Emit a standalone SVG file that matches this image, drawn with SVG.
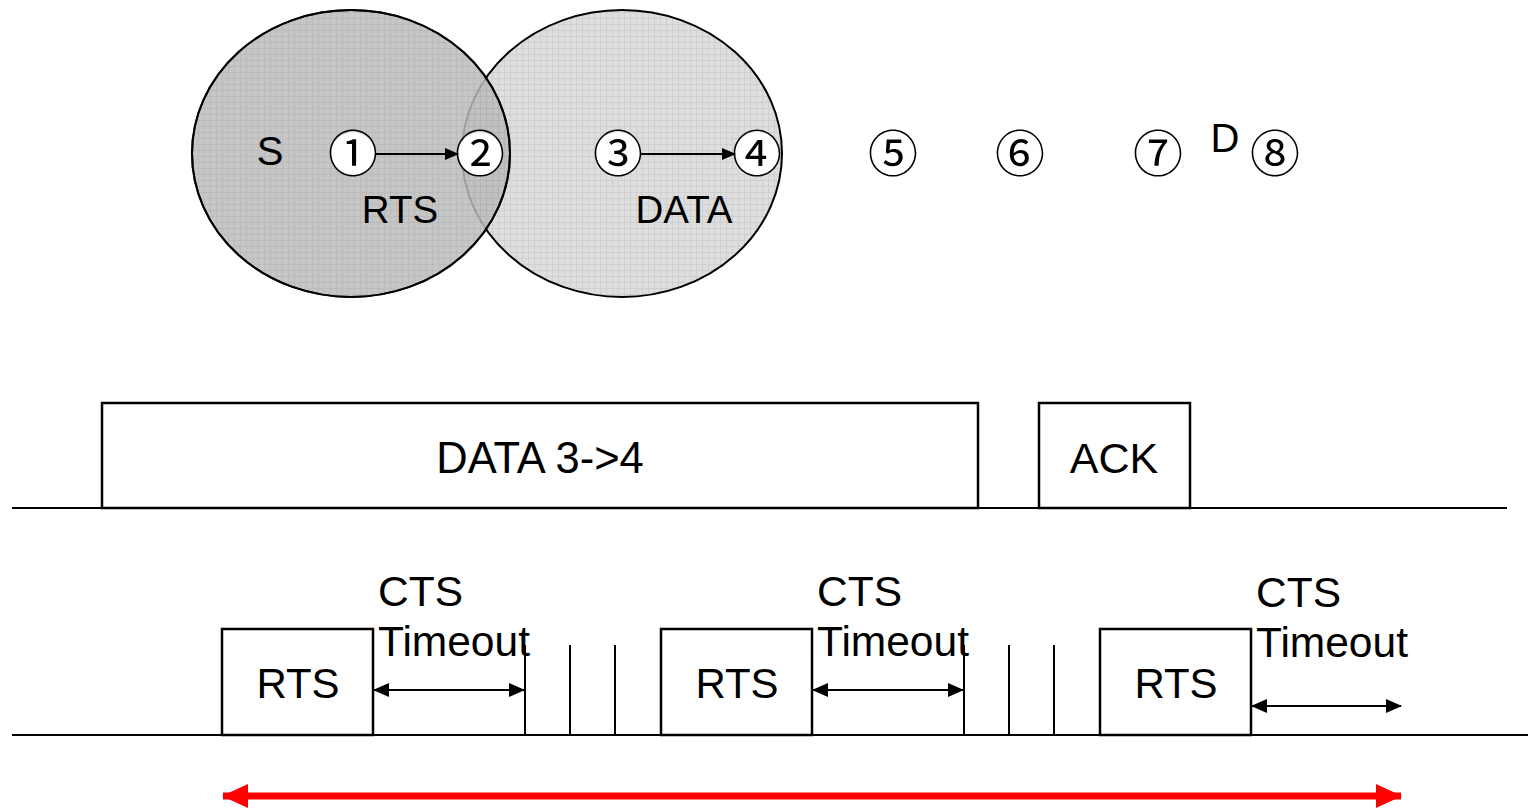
<svg xmlns="http://www.w3.org/2000/svg" width="1528" height="809" viewBox="0 0 1528 809">
<style>
.t{font-family:"Liberation Sans",Arial,sans-serif;fill:#000}
.cd{font-family:"Noto Sans CJK JP",sans-serif;font-size:50px;text-anchor:middle;fill:#000}
.ln{stroke:#000;stroke-width:2;fill:none}
.box{stroke:#000;stroke-width:2.5;fill:#fff}
</style>
<defs>
<pattern id="g1" width="6" height="6" patternUnits="userSpaceOnUse">
<rect width="6" height="6" fill="#bdbdbd"/>
<path d="M0 0.5H6M0.5 0V6" stroke="#b0b0b0" stroke-width="1"/>
</pattern>
<pattern id="g2" width="6" height="6" patternUnits="userSpaceOnUse">
<rect width="6" height="6" fill="#dedede"/>
<path d="M0 0.5H6M0.5 0V6" stroke="#d0d0d0" stroke-width="1"/>
</pattern>
<marker id="ah" markerWidth="14" markerHeight="12" refX="13" refY="6" orient="auto" markerUnits="userSpaceOnUse" viewBox="0 0 14 12">
<path d="M0 0L14 6L0 12Z" fill="#000"/>
</marker>
<marker id="am" markerWidth="16" markerHeight="14" refX="15" refY="7" orient="auto-start-reverse" markerUnits="userSpaceOnUse" viewBox="0 0 16 14">
<path d="M0 0L16 7L0 14Z" fill="#000"/>
</marker>
<marker id="ar" markerWidth="26" markerHeight="24" refX="25" refY="12" orient="auto-start-reverse" markerUnits="userSpaceOnUse" viewBox="0 0 26 24">
<path d="M0 0L26 12L0 24Z" fill="#f00"/>
</marker>
</defs>

<g id="range-4">
<ellipse cx="622" cy="153.5" rx="160" ry="143.5" fill="url(#g2)" stroke="#000" stroke-width="2"/>
</g>
<g id="range-1" opacity="0.85">
<ellipse cx="351" cy="153.5" rx="159" ry="143.5" fill="url(#g1)" stroke="#000" stroke-width="2"/>
</g>
<ellipse cx="351" cy="153.5" rx="159" ry="143.5" fill="none" stroke="#000" stroke-width="2"/>

<g id="labels-top">
<text class="t" x="270" y="165" font-size="40" text-anchor="middle">S</text>
<text class="t" x="400" y="223" font-size="38.5" text-anchor="middle">RTS</text>
<text class="t" x="684" y="223" font-size="38.5" text-anchor="middle">DATA</text>
<text class="t" x="1225" y="152" font-size="40" text-anchor="middle">D</text>
</g>

<g id="n1"><circle cx="353" cy="154" r="22" fill="#fff"/><text class="cd" x="353" y="171.5">①</text></g>
<g id="n2"><circle cx="480" cy="154" r="22" fill="#fff"/><text class="cd" x="480" y="171.5">②</text></g>
<g id="n3"><circle cx="618" cy="154" r="22" fill="#fff"/><text class="cd" x="618" y="171.5">③</text></g>
<g id="n4"><circle cx="757" cy="154" r="22" fill="#fff"/><text class="cd" x="757" y="171.5">④</text></g>
<g id="n5"><text class="cd" x="893" y="171.5">⑤</text></g>
<g id="n6"><text class="cd" x="1020" y="171.5">⑥</text></g>
<g id="n7"><text class="cd" x="1158" y="171.5">⑦</text></g>
<g id="n8"><text class="cd" x="1275" y="171.5">⑧</text></g>

<g id="timeline-1">
<line class="ln" x1="12" y1="508" x2="1507" y2="508"/>
<rect class="box" x="102" y="403" width="876" height="105"/>
<text class="t" x="540" y="473" font-size="43.5" text-anchor="middle">DATA 3-&gt;4</text>
<rect class="box" x="1039" y="403" width="151" height="105"/>
<text class="t" x="1114" y="473" font-size="43" text-anchor="middle">ACK</text>
</g>

<g id="timeline-2">
<line class="ln" x1="12" y1="735" x2="1528" y2="735"/>
<rect class="box" x="222" y="629" width="151" height="106"/>
<text class="t" x="298" y="698" font-size="42" text-anchor="middle">RTS</text>
<rect class="box" x="661" y="629" width="151" height="106"/>
<text class="t" x="737" y="698" font-size="42" text-anchor="middle">RTS</text>
<rect class="box" x="1100" y="629" width="151" height="106"/>
<text class="t" x="1176" y="698" font-size="42" text-anchor="middle">RTS</text>
<text class="t" x="378" y="606" font-size="42.5">CTS</text>
<text class="t" x="378" y="656" font-size="42.5">Timeout</text>
<text class="t" x="817" y="606" font-size="42.5">CTS</text>
<text class="t" x="817" y="656" font-size="42.5">Timeout</text>
<text class="t" x="1256" y="607" font-size="42.5">CTS</text>
<text class="t" x="1256" y="657" font-size="42.5">Timeout</text>
</g>

<g id="connectors">
<line class="ln" x1="375" y1="154" x2="458" y2="154" marker-end="url(#ah)"/>
<line class="ln" x1="640" y1="154" x2="735" y2="154" marker-end="url(#ah)"/>
<line class="ln" x1="525" y1="645" x2="525" y2="735"/>
<line class="ln" x1="570" y1="645" x2="570" y2="735"/>
<line class="ln" x1="615" y1="645" x2="615" y2="735"/>
<line class="ln" x1="964" y1="645" x2="964" y2="735"/>
<line class="ln" x1="1009" y1="645" x2="1009" y2="735"/>
<line class="ln" x1="1054" y1="645" x2="1054" y2="735"/>
<line class="ln" x1="374" y1="690" x2="524" y2="690" marker-start="url(#am)" marker-end="url(#am)"/>
<line class="ln" x1="813" y1="690" x2="963" y2="690" marker-start="url(#am)" marker-end="url(#am)"/>
<line class="ln" x1="1252" y1="706" x2="1401" y2="706" marker-start="url(#am)" marker-end="url(#am)"/>
<line x1="223" y1="796" x2="1401" y2="796" stroke="#f00" stroke-width="7" marker-start="url(#ar)" marker-end="url(#ar)"/>
</g>
</svg>
